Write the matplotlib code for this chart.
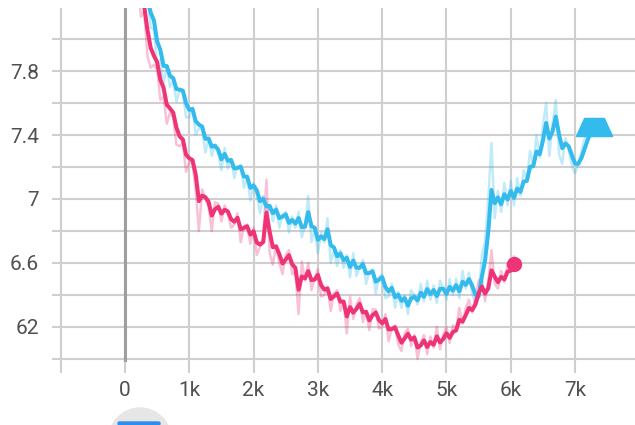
import numpy as np
import pandas as pd
import matplotlib
matplotlib.use("Agg")
import matplotlib.pyplot as plt
from matplotlib.path import Path
from matplotlib.patches import Circle, FancyBboxPatch

plt.rcParams['font.family'] = ['Roboto', 'DejaVu Sans']

# raw values, one every 50 steps
pink_start = 200
pink_raw = [8.31, 8.14, 8.17, 7.89, 7.82, 7.84, 7.81, 7.62, 7.64, 7.47,
            7.54, 7.51, 7.34, 7.33, 7.35, 7.17, 7.23, 7.23, 7.05, 6.80,
            7.06, 7.00, 6.95, 6.80, 6.98, 6.97, 6.86, 6.96, 6.91, 6.82,
            6.84, 6.91, 6.73, 6.83, 6.84, 6.72, 6.82, 6.65, 6.70, 6.75,
            7.12, 6.66, 6.59, 6.71, 6.60, 6.53, 6.65, 6.68, 6.53, 6.54,
            6.28, 6.61, 6.49, 6.60, 6.43, 6.50, 6.56, 6.39, 6.40, 6.45,
            6.30, 6.41, 6.43, 6.30, 6.36, 6.16, 6.39, 6.25, 6.34, 6.38,
            6.23, 6.30, 6.18, 6.31, 6.31, 6.19, 6.20, 6.28, 6.11, 6.19,
            6.21, 6.09, 6.05, 6.16, 6.19, 6.08, 6.15, 6.00, 6.10, 6.15,
            6.03, 6.14, 6.07, 6.20, 6.06, 6.15, 6.20, 6.10, 6.21, 6.19,
            6.32, 6.22, 6.32, 6.37, 6.29, 6.38, 6.49, 6.50, 6.36, 6.48,
            6.68, 6.47, 6.44, 6.55, 6.48, 6.60, 6.56, 6.64]

blue_start = 350
blue_raw = [8.25, 8.07, 8.06, 7.84, 7.87, 7.72, 7.83, 7.70, 7.74, 7.61,
            7.68, 7.67, 7.51, 7.51, 7.57, 7.40, 7.44, 7.44, 7.29, 7.38,
            7.27, 7.34, 7.28, 7.18, 7.32, 7.19, 7.25, 7.13, 7.20, 7.21,
            7.07, 7.14, 6.99, 7.10, 7.02, 6.91, 7.02, 6.90, 6.96, 6.86,
            6.96, 6.82, 6.90, 6.92, 6.79, 6.89, 6.82, 6.92, 6.76, 6.83,
            7.02, 6.73, 6.81, 6.66, 6.79, 6.73, 6.88, 6.60, 6.68, 6.58,
            6.68, 6.57, 6.65, 6.51, 6.66, 6.52, 6.57, 6.62, 6.47, 6.54,
            6.56, 6.41, 6.51, 6.53, 6.38, 6.39, 6.47, 6.32, 6.42, 6.32,
            6.40, 6.28, 6.43, 6.40, 6.34, 6.47, 6.36, 6.49, 6.37, 6.46,
            6.35, 6.49, 6.44, 6.37, 6.50, 6.40, 6.50, 6.38, 6.55, 6.44,
            6.54, 6.41, 6.34, 6.38, 6.65, 6.73, 7.00, 7.35, 6.88, 7.05,
            6.92, 7.10, 6.96, 7.11, 6.96, 7.13, 7.02, 7.18, 7.12, 7.30,
            7.21, 7.40, 7.26, 7.46, 7.60, 7.27, 7.47, 7.62, 7.28, 7.22,
            7.38, 7.31, 7.21, 7.16, 7.22, 7.30, 7.38, 7.44, 7.47, 7.48]

x_ticks = [-1000, 0, 1000, 2000, 3000, 4000, 5000, 6000, 7000]
x_labels = ['', '0', '1k', '2k', '3k', '4k', '5k', '6k', '7k']
y_ticks = [6.0, 6.2, 6.4, 6.6, 6.8, 7.0, 7.2, 7.4, 7.6, 7.8, 8.0]
y_labels = ['', '62', '', '6.6', '', '7', '', '7.4', '', '7.8', '']

pink = '#ee3377'
blue = '#33bbee'
smoothing_alpha = 0.47

pink_x = np.arange(len(pink_raw)) * 50 + pink_start
blue_x = np.arange(len(blue_raw)) * 50 + blue_start
pink_s = pd.Series(pink_raw).ewm(alpha=smoothing_alpha, adjust=False).mean()
blue_s = pd.Series(blue_raw).ewm(alpha=smoothing_alpha, adjust=False).mean()

fig = plt.figure(figsize=(6.35, 4.25), dpi=100)
ax = fig.add_axes([52 / 635, 63 / 425, 583 / 635, 354 / 425])

ax.plot(blue_x, blue_raw, color=blue, alpha=0.3, lw=1.8, zorder=2)
ax.plot(pink_x, pink_raw, color=pink, alpha=0.3, lw=1.8, zorder=2)
ax.plot(blue_x, blue_s, color=blue, lw=2.9, zorder=3)
ax.plot(pink_x, pink_s, color=pink, lw=2.9, zorder=4)

trap = Path([(-1.0, -0.5), (1.0, -0.5), (0.55, 0.5), (-0.55, 0.5), (-1.0, -0.5)],
            [Path.MOVETO, Path.LINETO, Path.LINETO, Path.LINETO, Path.CLOSEPOLY])
ax.plot(blue_x[-1], blue_s.iloc[-1], marker=trap, ms=26, color=blue,
        mec=blue, ls='none', zorder=5, clip_on=False)
ax.plot(pink_x[-1], pink_s.iloc[-1], marker='o', ms=10, color=pink,
        mec=pink, ls='none', zorder=5, clip_on=False)

ax.set_xlim(-1135, 7932)
ax.set_ylim(5.981, 8.194)
ax.set_xticks(x_ticks)
ax.set_xticklabels(x_labels)
ax.set_yticks(y_ticks)
ax.set_yticklabels(y_labels)

ax.grid(True, color='#cfcfcf', lw=1.5)
ax.axvline(0, color='#9e9e9e', lw=2.2, zorder=1)
for s in ax.spines.values():
    s.set_visible(False)
ax.tick_params(axis='x', length=8, width=1.5, color='#cfcfcf', pad=6,
               labelsize=15, labelcolor='#505050')
ax.tick_params(axis='y', length=0, pad=9.5, labelsize=15, labelcolor='#505050')
ax.set_axisbelow(True)

# the round button peeking in at the bottom (pixel coords, origin bottom-left)
fig.patches.append(Circle((140, -14), 31, transform=None, color='#e6e6e6',
                          figure=fig))
fig.patches.append(FancyBboxPatch((118, 0), 42, 3,
                                  boxstyle='round,pad=0,rounding_size=1.5',
                                  transform=None, color='#2d8ef0', figure=fig))

fig.savefig('out.png', dpi=100)
